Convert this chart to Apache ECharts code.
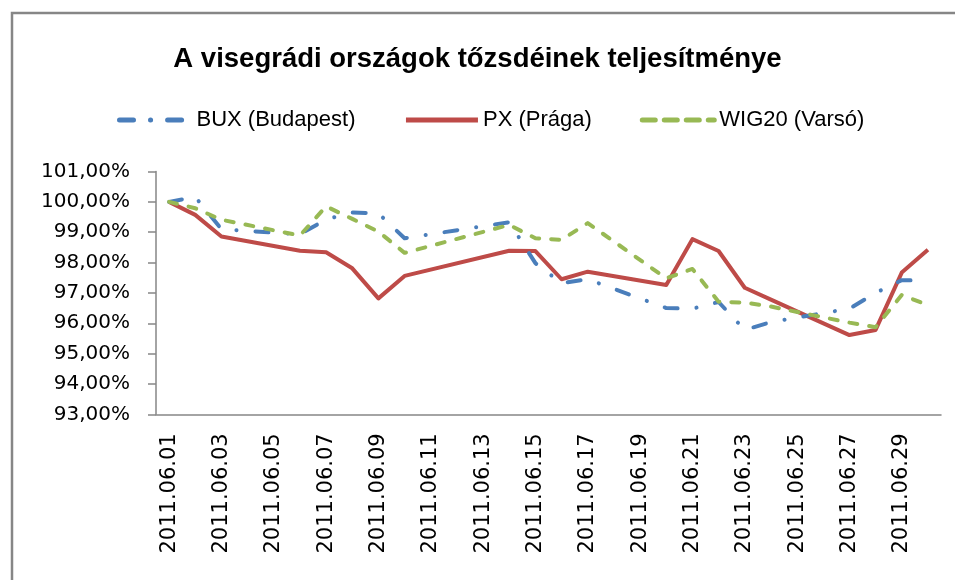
<!DOCTYPE html>
<html>
<head>
<meta charset="utf-8">
<title>A visegrádi országok tőzsdéinek teljesítménye</title>
<script src="https://cdn.jsdelivr.net/npm/echarts@6/dist/echarts.min.js"></script>
<style>
  html, body { margin: 0; padding: 0; background: #fff; }
  #main { width: 955px; height: 580px; }
</style>
</head>
<body>
<div id="main"></div>
<script>
// napok: 2011.06.01 - 2011.06.30 (hétvégék üresek)
var days = [
  "2011.06.01", "2011.06.02", "2011.06.03", "2011.06.04", "2011.06.05",
  "2011.06.06", "2011.06.07", "2011.06.08", "2011.06.09", "2011.06.10",
  "2011.06.11", "2011.06.12", "2011.06.13", "2011.06.14", "2011.06.15",
  "2011.06.16", "2011.06.17", "2011.06.18", "2011.06.19", "2011.06.20",
  "2011.06.21", "2011.06.22", "2011.06.23", "2011.06.24", "2011.06.25",
  "2011.06.26", "2011.06.27", "2011.06.28", "2011.06.29", "2011.06.30"
];

var bux = [
  100.00, 100.16, 99.10, null, null,
  98.93, 99.42, 99.65, 99.62, 98.80,
  null, null, null, 99.33, 97.98,
  97.32, 97.45, null, null, 96.50,
  96.48, 96.70, 95.78, 96.04, null,
  null, 96.48, 97.00, 97.42, 97.40
];

var px = [
  100.00, 99.57, 98.86, null, null,
  98.39, 98.34, 97.81, 96.82, 97.56,
  null, null, null, 98.39, 98.38,
  97.45, 97.70, null, null, 97.26,
  98.77, 98.38, 97.17, 96.78, null,
  null, 95.61, 95.78, 97.67, 98.42
];

var wig20 = [
  100.00, 99.79, 99.41, null, null,
  98.89, 99.85, 99.44, 99.02, 98.32,
  null, null, null, 99.24, 98.80,
  98.75, 99.30, null, null, 97.48,
  97.79, 96.71, 96.68, 96.55, null,
  null, 96.02, 95.87, 96.93, 96.60
];

var seriesNames = ["BUX (Budapest)", "PX (Prága)", "WIG20 (Varsó)"];
var colors = ["#4A7EBB", "#BE4B48", "#98B954"];

var chart = echarts.init(document.getElementById("main"));

var option = {
  backgroundColor: "#fff",
  animation: false,
  graphic: [
    {
      type: "rect",
      shape: { x: 12, y: 13, width: 960, height: 600 },
      style: { fill: null, stroke: "#868686", lineWidth: 2.5 },
      silent: true
    }
  ],
  title: {
    text: "A visegrádi országok tőzsdéinek teljesítménye",
    left: "center",
    top: 40,
    textStyle: {
      fontFamily: "'Liberation Sans', sans-serif",
      fontWeight: "bold",
      fontSize: 27.5,
      color: "#000"
    }
  },
  legend: {
    top: 104,
    left: 112,
    itemWidth: 72,
    itemHeight: 14,
    itemGap: 48,
    itemStyle: { opacity: 0 },
    textStyle: {
      fontFamily: "'Liberation Sans', sans-serif",
      fontSize: 22,
      color: "#000"
    },
    data: [
      {
        name: seriesNames[0],
        lineStyle: { width: 5, type: [14, 17, 0.1, 17], cap: "round" }
      },
      {
        name: seriesNames[1],
        lineStyle: { width: 5 }
      },
      {
        name: seriesNames[2],
        lineStyle: { width: 5, type: [13, 9], cap: "round" }
      }
    ]
  },
  grid: {
    left: 156,
    right: 14,
    top: 171.5,
    bottom: 165.7
  },
  xAxis: {
    type: "category",
    data: days,
    boundaryGap: true,
    axisLine: { lineStyle: { color: "#868686", width: 1.5 } },
    axisTick: {
      interval: 1,
      length: 8,
      lineStyle: { color: "#868686", width: 1.5 }
    },
    axisLabel: {
      interval: 1,
      rotate: 90,
      margin: 19,
      fontFamily: "'DejaVu Sans', sans-serif",
      fontSize: 21,
      color: "#000"
    },
    splitLine: { show: false }
  },
  yAxis: {
    type: "value",
    min: 93,
    max: 101,
    interval: 1,
    axisLine: { show: true, lineStyle: { color: "#868686", width: 1.5 } },
    axisTick: { show: true, length: 8, lineStyle: { color: "#868686", width: 1.5 } },
    splitLine: { show: false },
    axisLabel: {
      margin: 26,
      fontFamily: "'DejaVu Sans', sans-serif",
      fontSize: 20,
      color: "#000",
      formatter: function (v) {
        return v.toFixed(2).replace(".", ",") + "%";
      }
    }
  },
  series: [
    {
      name: seriesNames[0],
      type: "line",
      data: bux,
      connectNulls: true,
      symbol: "none",
      color: colors[0],
      lineStyle: {
        color: colors[0],
        width: 4,
        type: [13, 19, 0.1, 19],
        cap: "round",
        join: "round"
      },
      z: 3
    },
    {
      name: seriesNames[1],
      type: "line",
      data: px,
      connectNulls: true,
      symbol: "none",
      color: colors[1],
      lineStyle: {
        color: colors[1],
        width: 4,
        join: "round"
      },
      z: 2
    },
    {
      name: seriesNames[2],
      type: "line",
      data: wig20,
      connectNulls: true,
      symbol: "none",
      color: colors[2],
      lineStyle: {
        color: colors[2],
        width: 4,
        type: [8, 12],
        cap: "round",
        join: "round"
      },
      z: 4
    }
  ]
};

chart.setOption(option);
</script>
</body>
</html>
